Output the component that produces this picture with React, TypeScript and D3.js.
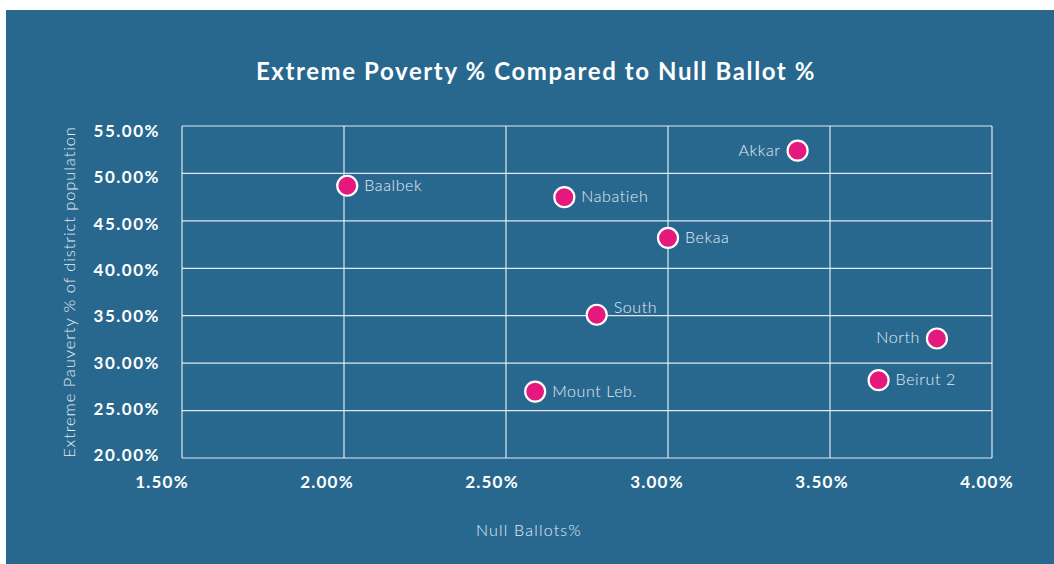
import React from "react";
import * as d3 from "d3";

const districts = ["Baalbek", "Akkar", "Nabatieh", "Bekaa", "South", "Mount Leb.", "North", "Beirut 2"];
const nullBallots = [2.01, 3.4, 2.68, 3.0, 2.78, 2.59, 3.83, 3.65];
const extremePoverty = [48.7, 52.4, 47.5, 43.2, 35.1, 27.0, 32.6, 28.2];
const labelSide = ["right", "left", "right", "right", "right", "right", "left", "right"];
const xTicks = [1.5, 2.0, 2.5, 3.0, 3.5, 4.0];
const yTicks = [20, 25, 30, 35, 40, 45, 50, 55];

const W = 1054, H = 564;
const BG = "#28688f";
const PINK = "#e5197d";
const FONT = "Lato, 'Open Sans', sans-serif";

export default function App() {
  const x = d3.scaleLinear().domain([1.5, 4.0]).range([182, 992]);
  const y = d3.scaleLinear().domain([20, 55]).range([458, 126]);
  // tick-label placement scales (labels are slightly offset from gridlines in the reference)
  const xl = d3.scaleLinear().domain([1.5, 4.0]).range([162, 987]);
  const yl = d3.scaleLinear().domain([20, 55]).range([455, 131]);

  return (
    <svg width={W} height={H} style={{ position: "absolute", left: 0, top: 0 }} fontFamily={FONT}>
      <rect x={0} y={0} width={W} height={H} fill="#ffffff" />
      <rect x={6} y={10} width={W - 6} height={H - 10} fill={BG} />
      <text x={536} y={80} textAnchor="middle" fill="#ffffff" fontSize={24} fontWeight={700} letterSpacing={1.6}>
        Extreme Poverty % Compared to Null Ballot %
      </text>
      {/* gridlines */}
      {yTicks.map((t) => (
        <line key={"gy" + t} x1={x(1.5)} x2={x(4.0)} y1={y(t)} y2={y(t)} stroke="#ffffff" strokeOpacity={0.85} strokeWidth={1.2} />
      ))}
      {xTicks.map((t) => (
        <line key={"gx" + t} x1={x(t)} x2={x(t)} y1={y(20)} y2={y(55)} stroke="#ffffff" strokeOpacity={0.85} strokeWidth={1.2} />
      ))}
      {/* y tick labels */}
      {yTicks.map((t) => (
        <text key={"ty" + t} x={160} y={yl(t)} dy="0.36em" textAnchor="end" fill="#ffffff" fontSize={17} fontWeight={700} letterSpacing={1.5}>
          {t.toFixed(2) + "%"}
        </text>
      ))}
      {/* x tick labels */}
      {xTicks.map((t) => (
        <text key={"tx" + t} x={xl(t)} y={488} textAnchor="middle" fill="#ffffff" fontSize={17} fontWeight={700} letterSpacing={1.2}>
          {t.toFixed(2) + "%"}
        </text>
      ))}
      {/* axis titles */}
      <text x={529} y={536} textAnchor="middle" fill="#e4ecf2" fontSize={16} fontWeight={300} letterSpacing={1.2}>
        Null Ballots%
      </text>
      <text transform={`translate(75,${(y(20) + y(55)) / 2}) rotate(-90)`} textAnchor="middle" fill="#e4ecf2" fontSize={16.5} fontWeight={300} letterSpacing={0.9}>
        Extreme Pauverty % of district population
      </text>
      {/* points */}
      {districts.map((d, i) => {
        const cx = x(nullBallots[i]);
        const cy = y(extremePoverty[i]);
        const right = labelSide[i] === "right";
        const dyl = d === "South" ? -2 : 5;
        return (
          <g key={d}>
            <circle cx={cx} cy={cy} r={10} fill={PINK} stroke="#ffffff" strokeWidth={2.2} />
            <text x={right ? cx + 17 : cx - 17} y={cy + dyl} textAnchor={right ? "start" : "end"} fill="#e4ecf2" fontSize={16} fontWeight={300} letterSpacing={0.6}>
              {d}
            </text>
          </g>
        );
      })}
    </svg>
  );
}
